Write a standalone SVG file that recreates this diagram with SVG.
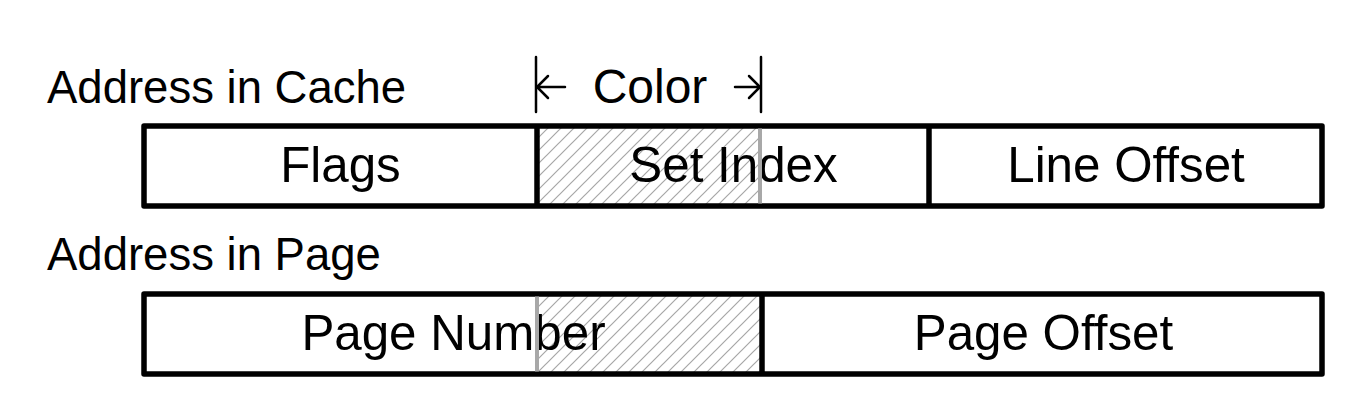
<svg xmlns="http://www.w3.org/2000/svg" width="1362" height="414" viewBox="0 0 1362 414">
<style>
.t{font-family:"Liberation Sans",Arial,sans-serif;fill:#000}
.lab{font-size:45.5px}
.box{font-size:49.3px;text-anchor:middle}
.frame{fill:none;stroke:#000;stroke-width:5.5;stroke-linejoin:round}
.div{stroke:#000;stroke-width:5.5}
.gray{stroke:#a8a8a8;stroke-width:4}
.dim{stroke:#000;stroke-width:2.5;fill:none;stroke-linecap:round;stroke-linejoin:miter}
</style>
<defs>
<pattern id="hatch" patternUnits="userSpaceOnUse" width="13" height="13">
<path d="M-1,14 L14,-1 M-4,4 L4,-4 M9,17 L17,9" stroke="#a6a6a6" stroke-width="1.2"/>
</pattern>
</defs>
<rect width="1362" height="414" fill="#fff"/>
<g id="cache">
<rect x="537" y="126" width="224" height="80" fill="url(#hatch)"/>
<rect class="frame" x="144" y="126" width="1178" height="80"/>
<line class="div" x1="537" y1="126" x2="537" y2="206"/>
<line class="div" x1="929" y1="126" x2="929" y2="206"/>
<text class="t lab" x="47" y="103">Address in Cache</text>
<text class="t box" x="340.5" y="181.5">Flags</text>
<text class="t box" x="733.5" y="181.5">Set Index</text>
<text class="t box" x="1126" y="181.5">Line Offset</text>
<line class="gray" x1="760" y1="128.5" x2="760" y2="203.5"/>
</g>
<g id="page">
<rect x="537" y="294" width="225" height="80" fill="url(#hatch)"/>
<rect class="frame" x="144" y="294" width="1178" height="80"/>
<line class="div" x1="762" y1="294" x2="762" y2="374"/>
<text class="t lab" x="47" y="270">Address in Page</text>
<text class="t box" x="453.5" y="349.5">Page Number</text>
<text class="t box" x="1043.5" y="349.5">Page Offset</text>
<line class="gray" x1="537" y1="296.5" x2="537" y2="371.5"/>
</g>
<g id="color">
<line class="dim" x1="536" y1="57" x2="536" y2="112"/>
<line class="dim" x1="761" y1="57" x2="761" y2="112"/>
<text class="t" x="650" y="103" font-size="48" text-anchor="middle">Color</text>
</g>
<g id="connectors">
<path class="dim" d="M565,87 L537,87 M548,76 L537,87 L548,98"/>
<path class="dim" d="M735,87 L760,87 M749,76 L760,87 L749,98"/>
</g>
</svg>
